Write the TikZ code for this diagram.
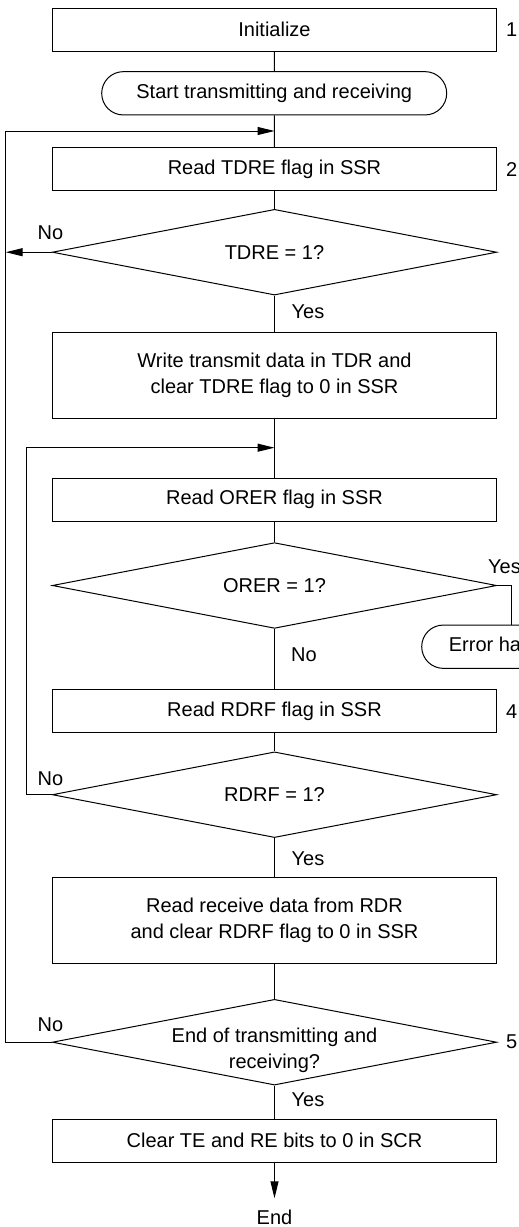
\documentclass[tikz,border=0pt]{standalone}
\usepackage{fontspec}
\setmainfont{Liberation Sans}
\usetikzlibrary{shapes.geometric,arrows.meta}

\begin{document}
\begin{tikzpicture}[x=1pt,y=-1pt,
  every node/.style={font=\fontsize{20}{26}\selectfont},
  proc/.style={draw,line width=1pt,rectangle,minimum width=444.4pt,minimum height=43pt,inner sep=0pt,align=center},
  bigproc/.style={proc,minimum height=86pt},
  term/.style={draw,line width=1pt,rectangle,rounded corners=21.6pt,minimum height=43.3pt,inner sep=0pt},
  decide/.style={draw,line width=1pt,diamond,aspect=5.2,minimum width=444.4pt,minimum height=85.7pt,inner sep=0pt,align=center},
  flow/.style={line width=1pt},
  flowarr/.style={line width=1pt,-{Triangle[length=17pt,width=8pt]}}]
\useasboundingbox (0,0) rectangle (519,1227);
\clip (0,0) rectangle (519,1227);
\node[proc] (init) at (274.5,29.5) {Initialize};
\node[term,minimum width=345pt] (start) at (274.2,93.3) {Start transmitting and receiving};
\node[proc] (rdtdre) at (274.5,169) {Read TDRE flag in SSR};
\node[decide] (tdre) at (274.5,252.2) {TDRE = 1?};
\node[bigproc] (wrtdr) at (274.5,375.7) {Write transmit data in TDR and\\clear TDRE flag to 0 in SSR};
\node[proc] (rdorer) at (274.5,499.7) {Read ORER flag in SSR};
\node[decide] (orer) at (274.5,585.5) {ORER = 1?};
\node[term,minimum width=180pt] (errh) at (511.7,646.7) {Error handling};
\node[proc] (rdrdrf) at (274.5,711.3) {Read RDRF flag in SSR};
\node[decide] (rdrf) at (274.5,794.7) {RDRF = 1?};
\node[bigproc] (rdrdr) at (274.5,920) {Read receive data from RDR\\and clear RDRF flag to 0 in SSR};
\node[decide] (fin) at (274.5,1042.2) {};
\node[align=center] (fintxt) at (274.5,1050) {End of transmitting and\\receiving?};
\node[proc] (clrte) at (274.5,1140.5) {Clear TE and RE bits to 0 in SCR};
\node[anchor=north,inner ysep=11pt] (endtxt) at (274.5,1198.3) {End};
% step numbers and branch labels
\foreach \nm/\px/\py/\txt in {s1/511.7/30/1,s2/511.7/170/2,s4/511.7/711.7/4,s5/511.7/1041.7/5,
  no1/50.5/233/No,yes1/308/311.7/Yes,yes2/504.5/566.7/Yes,no2/304/655/No,
  no3/50.5/778.3/No,yes3/308/858.3/Yes,no4/50.5/1025/No,yes4/308/1100/Yes} {
  \node (\nm) at (\px,\py) {\txt};
}
% main flow
\coordinate (join1) at (274.5,131);
\coordinate (join2) at (274.5,447.7);
\draw[flow] (init) -- (start);
\draw[flow] (start) -- (rdtdre);
\draw[flow] (rdtdre) -- (tdre);
\draw[flow] (tdre) -- (wrtdr);
\draw[flow] (wrtdr) -- (rdorer);
\draw[flow] (rdorer) -- (orer);
\draw[flow] (orer) -- (rdrdrf);
\draw[flow] (rdrdrf) -- (rdrf);
\draw[flow] (rdrf) -- (rdrdr);
\draw[flow] (rdrdr) -- (fin);
\draw[flow] (fin) -- (clrte);
\draw[flowarr] (clrte) -- (endtxt);
% loops back
\coordinate (railA) at (5.7,252.2);
\coordinate (railtop) at (5.7,131);
\coordinate (railB) at (26,447.7);
\draw[flowarr] (tdre.west) -- (railA);
\draw[flowarr] (fin.west) -| (railtop) -- (join1);
\draw[flowarr] (rdrf.west) -| (railB) -- (join2);
\draw[flow] (orer.east) -| (errh.north);
\end{tikzpicture}
\end{document}
